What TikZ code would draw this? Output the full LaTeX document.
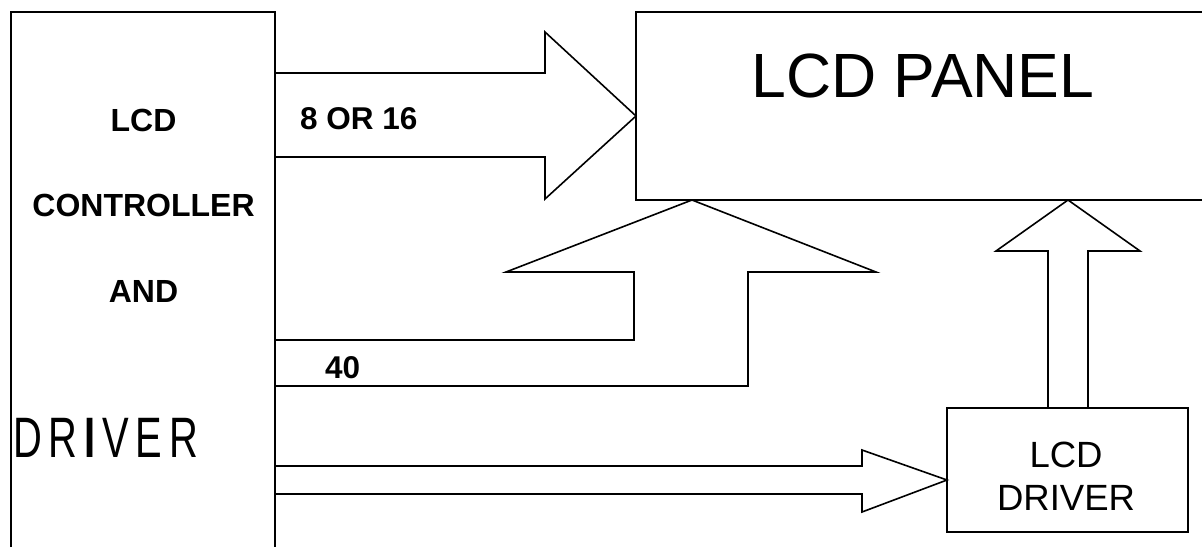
\documentclass[tikz,border=0pt]{standalone}
\usepackage{fontspec}
\setmainfont{Liberation Sans}
\newfontfamily\drvfont[FakeStretch=0.7,LetterSpace=12]{Liberation Sans}
\usepackage{tikz}
\usetikzlibrary{calc,positioning}
\tikzset{
  partline/.style={draw=black,line width=1.6pt,line join=miter},
  headfont/.style={font=\bfseries\fontsize{32}{36}\selectfont,inner sep=0pt,anchor=base},
  buslabel/.style={font=\bfseries\fontsize{31.5}{36}\selectfont,inner sep=0pt,anchor=base west},
}
\newcommand{\lhead}[3]{\node[headfont] (#1) at (143.5,#2) {#3};}

\begin{document}
\begin{tikzpicture}[x=1pt,y=-1pt]
        \useasboundingbox (0,0) rectangle (1202,547);
        % controller block, runs off the bottom
        \draw[partline] (11,547) -- (11,12) -- (275,12) -- (275,547);
        % panel block, runs off the right
        \draw[partline] (1202,12) -- (636,12) -- (636,200) -- (1202,200);
        % driver block
        \draw[partline] (947,408) rectangle (1188,532);
        % data bus 8 or 16
        \draw[partline] (275,73) -- (545,73) -- (545,32) -- (636,116)
          -- (545,199) -- (545,157) -- (275,157);
        % bus 40
        \draw[partline] (275,340) -- (634,340) -- (634,272) -- (506,272)
          -- (692,200) -- (876,272) -- (748,272) -- (748,386) -- (275,386);
        % driver to panel
        \draw[partline] (1048,408) -- (1048,251) -- (996,251) -- (1068,200)
          -- (1140,251) -- (1088,251) -- (1088,408);
        % controller to driver
        \draw[partline] (275,466) -- (862,466) -- (862,450) -- (947,480)
          -- (862,512) -- (862,494) -- (275,494);
        % labels
        \lhead{ctlA}{131}{LCD}
        \lhead{ctlB}{216}{CONTROLLER}
        \lhead{ctlC}{302}{AND}
        \node[inner sep=0pt,anchor=base west,font=\drvfont\fontsize{57}{60}\selectfont]
          (ctlD) at (13,457) {DR\textbf{I}VER};
        \node[buslabel] (busA) at (300,129) {8 OR 16};
        \node[buslabel] (busB) at (325,378) {40};
        \node[inner sep=0pt,anchor=base,font=\fontsize{62.5}{66}\selectfont]
          (panel) at (923,97) {LCD PANEL};
        \node[inner sep=0pt,anchor=base,font=\fontsize{36.5}{40}\selectfont]
          (drvA) at (1066,467) {LCD};
        \node[inner sep=0pt,anchor=base,font=\fontsize{36.5}{40}\selectfont]
          (drvB) at (1066,510) {DRIVER};
      \end{tikzpicture}
\end{document}
